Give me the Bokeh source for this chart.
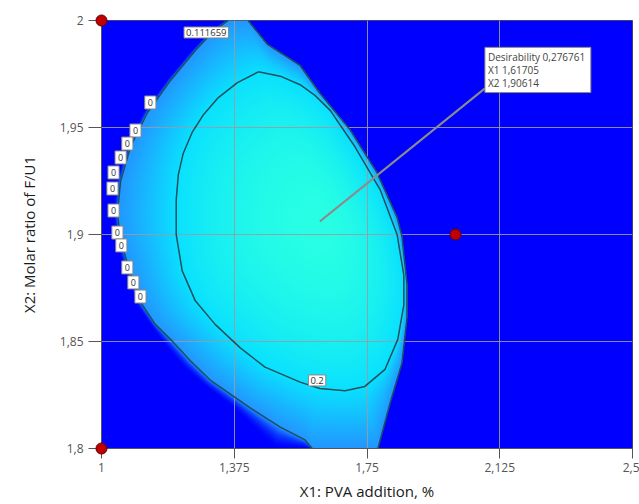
import numpy as np
from bokeh.plotting import figure
from bokeh.models import Range1d, Label
from bokeh.embed import file_html
from bokeh.resources import INLINE

# ---------------- data ----------------
x_ticks = [1.0, 1.375, 1.75, 2.125, 2.5]
x_tick_labels = ["1", "1,375", "1,75", "2,125", "2,5"]
y_ticks = [1.8, 1.85, 1.9, 1.95, 2.0]
y_tick_labels = ["1,8", "1,85", "1,9", "1,95", "2"]

design_x = [1.0, 1.0, 2.0]
design_y = [2.0, 1.8, 1.9]

opt_x, opt_y, opt_d = 1.61705, 1.90614, 0.276761

level_outer = 0.111659
level_inner = 0.2

# contour D = 0.2 (closed)
inner_x = [1.443, 1.505, 1.561, 1.603, 1.646, 1.716, 1.787, 1.835, 1.854, 1.854,
           1.837, 1.801, 1.744, 1.688, 1.617, 1.561, 1.462, 1.392, 1.321, 1.265,
           1.228, 1.211, 1.211, 1.217, 1.231, 1.257, 1.288, 1.330, 1.384]
inner_y = [1.976, 1.974, 1.970, 1.965, 1.958, 1.941, 1.921, 1.900, 1.881, 1.867,
           1.851, 1.837, 1.829, 1.827, 1.828, 1.831, 1.838, 1.847, 1.858, 1.869,
           1.883, 1.900, 1.916, 1.928, 1.938, 1.948, 1.956, 1.964, 1.971]

# contour D = 0.111659 (clipped by the frame): left branch and right branch
outer_left_x = [1.358, 1.316, 1.265, 1.195, 1.130, 1.082, 1.054, 1.045, 1.054, 1.082,
                1.116, 1.152, 1.195, 1.251, 1.307, 1.420, 1.505, 1.575, 1.595]
outer_left_y = [2.000, 1.995, 1.986, 1.972, 1.957, 1.941, 1.925, 1.910, 1.897, 1.882,
                1.867, 1.858, 1.851, 1.841, 1.832, 1.819, 1.810, 1.804, 1.800]
outer_right_x = [1.781, 1.815, 1.849, 1.863, 1.863, 1.849, 1.835, 1.778, 1.702, 1.617,
                 1.561, 1.468, 1.414]
outer_right_y = [1.800, 1.821, 1.840, 1.861, 1.877, 1.899, 1.908, 1.929, 1.949, 1.966,
                 1.979, 1.989, 2.000]

# edge of the region where desirability is above zero (left branch)
zero_left_x = [1.347, 1.305, 1.254, 1.183, 1.118, 1.070, 1.042, 1.034, 1.042, 1.068,
               1.099, 1.138, 1.180, 1.231, 1.293, 1.372, 1.434, 1.491]
zero_left_y = [2.000, 1.995, 1.986, 1.972, 1.957, 1.941, 1.925, 1.910, 1.897, 1.882,
               1.867, 1.858, 1.848, 1.838, 1.829, 1.819, 1.809, 1.800]

# contour labels
zero_label_x = [1.138, 1.096, 1.073, 1.054, 1.034, 1.031, 1.034, 1.045, 1.056, 1.073, 1.090, 1.110]
zero_label_y = [1.9617, 1.9486, 1.9425, 1.936, 1.929, 1.9215, 1.9112, 1.9009, 1.8949, 1.8846, 1.8776, 1.8710]
outer_label_xy = (1.296, 1.9944)
inner_label_xy = (1.609, 1.8318)

# colour scale of desirability
cmap_d = [0.0, 0.05, 0.111659, 0.2, 0.276761]
cmap_r = [0, 10, 35, 10, 40]
cmap_g = [0, 60, 150, 225, 255]
cmap_b = [255, 255, 255, 255, 228]

# ---------------- figure ----------------
X0, X1, Y0, Y1 = 1.0, 2.5, 1.8, 2.0
p = figure(width=639, height=504, x_range=Range1d(X0, X1), y_range=Range1d(Y0, Y1),
           output_backend="svg", toolbar_location=None,
           min_border_left=101, min_border_top=20, min_border_right=7, min_border_bottom=56)
p.background_fill_color = "#0000FF"
p.border_fill_color = "white"
p.outline_line_color = "#555555"

FW, FH = 531, 428  # frame size in px


def to_px(x, y):
    return (np.asarray(x, float) - X0) / (X1 - X0) * FW, (np.asarray(y, float) - Y0) / (Y1 - Y0) * FH


cx, cy = to_px(opt_x, opt_y)
K = 1440
theta = np.linspace(-np.pi, np.pi, K, endpoint=False)


def radial(xs, ys):
    ax, ay = to_px(xs, ys)
    bx, by = np.roll(ax, -1), np.roll(ay, -1)
    ex, ey = bx - ax, by - ay
    wx, wy = ax - cx, ay - cy
    dx = np.cos(theta)[:, None]
    dy = np.sin(theta)[:, None]
    den = dx * ey - dy * ex
    with np.errstate(divide="ignore", invalid="ignore"):
        t = (wx * ey - wy * ex) / den
        s = (wx * dy - wy * dx) / den
    ok = (s >= 0) & (s <= 1) & (t > 0) & np.isfinite(t)
    t = np.where(ok, t, np.inf)
    return t.min(axis=1)


r_in = radial(inner_x, inner_y)
r_out = radial(outer_left_x + outer_right_x, outer_left_y + outer_right_y)
r_zero = radial(zero_left_x + outer_right_x, zero_left_y + outer_right_y)
r_out = np.maximum(r_out, r_in + 1)
r_zero = np.maximum(r_zero, r_out)

gx = np.arange(FW) + 0.5
gy = np.arange(FH) + 0.5
GX, GY = np.meshgrid(gx, gy)
ang = np.arctan2(GY - cy, GX - cx)
dist = np.hypot(GX - cx, GY - cy)
th_ext = np.concatenate([theta, [theta[0] + 2 * np.pi]])


def at(r):
    return np.interp(ang, th_ext, np.concatenate([r, [r[0]]]))


R2, R1, R0 = at(r_in), at(r_out), at(r_zero)
D = np.zeros_like(dist)
m1 = dist <= R2
D[m1] = opt_d - (opt_d - level_inner) * (dist[m1] / R2[m1]) ** 2
m2 = (dist > R2) & (dist <= R1)
D[m2] = level_inner - (level_inner - level_outer) * (dist[m2] - R2[m2]) / (R1[m2] - R2[m2])
m3 = (dist > R1) & (dist <= R0)
f = np.clip((dist[m3] - R1[m3]) / np.maximum(R0[m3] - R1[m3], 1e-6), 0, 1)
D[m3] = level_outer * (1 - f) ** 1.6

img = np.zeros((FH, FW), dtype=np.uint32)
view = img.view(dtype=np.uint8).reshape((FH, FW, 4))
view[..., 0] = np.interp(D, cmap_d, cmap_r).astype(np.uint8)
view[..., 1] = np.interp(D, cmap_d, cmap_g).astype(np.uint8)
view[..., 2] = np.interp(D, cmap_d, cmap_b).astype(np.uint8)
view[..., 3] = 255

p.image_rgba(image=[img], x=X0, y=Y0, dw=X1 - X0, dh=Y1 - Y0, level="image")

# grid
for g in (p.xgrid, p.ygrid):
    g.grid_line_color = "#9a9aa8"
    g.grid_line_alpha = 0.9
    g.grid_line_width = 1

# contour lines
line_col = "#1d4f5c"
p.line(inner_x + [inner_x[0]], inner_y + [inner_y[0]], line_color=line_col, line_width=1.5)
p.line(outer_left_x, outer_left_y, line_color=line_col, line_width=1.5)
p.line(outer_right_x, outer_right_y, line_color=line_col, line_width=1.5)


# contour labels
def box_label(x, y, text, size="9px", pad=2):
    p.add_layout(Label(x=x, y=y, text=text, text_font="Open Sans", text_font_size=size,
                       text_color="#333333", text_align="center", text_baseline="middle",
                       background_fill_color="white", border_line_color="#888888",
                       padding=pad))


box_label(outer_label_xy[0], outer_label_xy[1], "0.111659", "9.5px")
box_label(inner_label_xy[0], inner_label_xy[1], "0.2", "9.5px")
for zx, zy in zip(zero_label_x, zero_label_y):
    box_label(zx, zy, "0", "9px", 3)

# callout for the optimum
dx_px, dy_px = 165, 133
lx = opt_x + dx_px * (X1 - X0) / FW
ly = opt_y + dy_px * (Y1 - Y0) / FH
p.segment(x0=[opt_x], y0=[opt_y], x1=[lx], y1=[ly], line_color="#8c8c8c", line_width=2)
callout = "Desirability  %s\nX1  %s\nX2  %s" % (
    ("%.6f" % opt_d).replace(".", ","), ("%.5f" % opt_x).replace(".", ","), ("%.5f" % opt_y).replace(".", ","))
p.add_layout(Label(x=opt_x, y=opt_y, x_offset=dx_px, y_offset=dy_px + 41, text=callout,
                   text_font="Open Sans", text_font_size="10px", text_color="#444444",
                   text_line_height=0.9,
                   text_align="left", text_baseline="top", background_fill_color="white",
                   border_line_color="#888888", padding=3))

# design points
p.scatter(design_x, design_y, size=11, fill_color="#c00000", line_color="#5a0000",
          line_width=1, level="overlay")

# axes
p.xaxis.ticker = x_ticks
p.yaxis.ticker = y_ticks
p.xaxis.major_label_overrides = dict(zip(x_ticks, x_tick_labels))
p.yaxis.major_label_overrides = dict(zip(y_ticks, y_tick_labels))
for ax in (p.xaxis[0], p.yaxis[0]):
    ax.axis_line_color = "#555555"
    ax.major_tick_line_color = "#555555"
    ax.minor_tick_line_color = None
    ax.major_tick_in = 0
    ax.major_label_text_font = "Open Sans"
    ax.major_label_text_font_size = "12px"
    ax.major_label_text_color = "#555555"
    ax.axis_label_text_font = "Open Sans"
    ax.axis_label_text_font_size = "15px"
    ax.axis_label_text_font_style = "normal"
    ax.axis_label_text_color = "#1a1a1a"
p.yaxis.major_tick_out = 13
p.yaxis.major_label_standoff = 5
p.yaxis.axis_label_standoff = 18
p.xaxis.major_tick_out = 10
p.xaxis.major_label_standoff = 4
p.xaxis.axis_label_standoff = 6
p.xaxis.axis_label = "X1: PVA addition, %"
p.yaxis.axis_label = "X2: Molar ratio of F/U1"

open("out.html", "w").write(file_html(p, INLINE))
